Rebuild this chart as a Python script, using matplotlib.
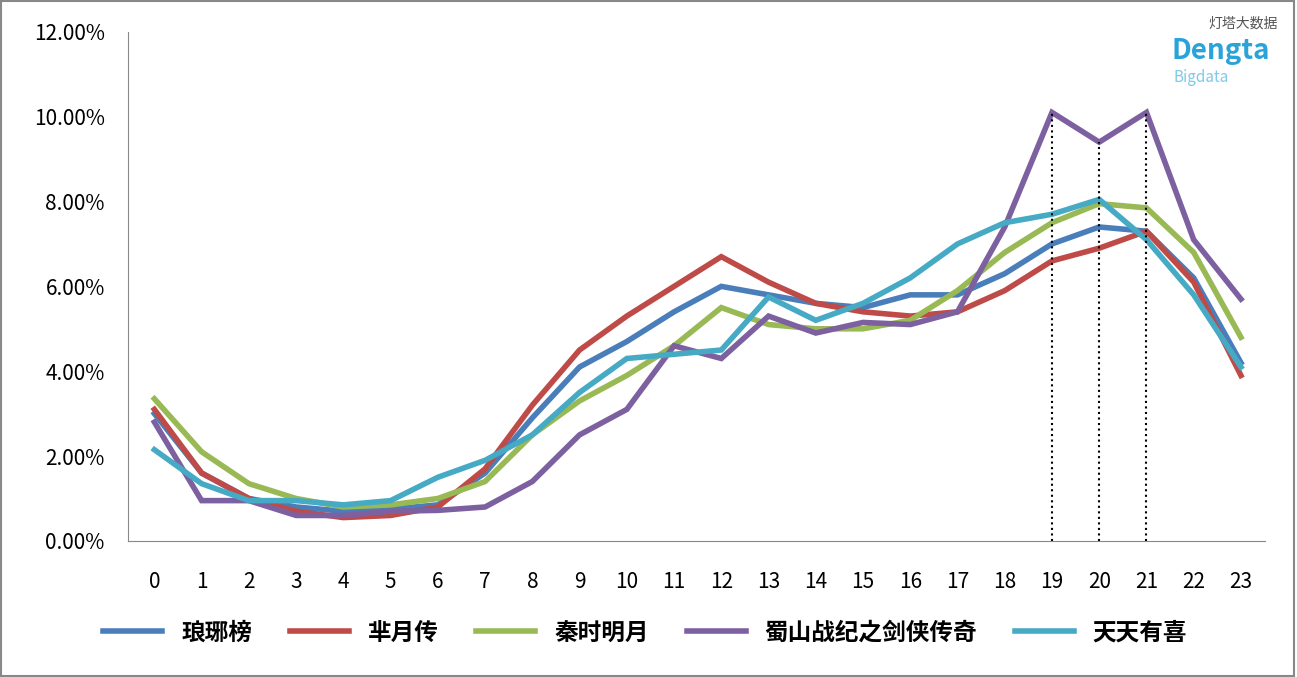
import matplotlib
matplotlib.use("Agg")
import matplotlib.pyplot as plt
from matplotlib import font_manager as fm
from matplotlib.ticker import FuncFormatter

hours = list(range(24))
names = ["琅琊榜", "芈月传", "秦时明月", "蜀山战纪之剑侠传奇", "天天有喜"]
colors = ["#4a7ebb", "#be4b48", "#98b954", "#7d60a0", "#46aac5"]
langya = [3.0,1.6,1.0,0.8,0.7,0.75,0.85,1.6,2.9,4.1,4.7,5.4,6.0,5.8,5.6,5.5,5.8,5.8,6.3,7.0,7.4,7.3,6.2,4.2]
miyue = [3.1,1.6,1.0,0.7,0.55,0.6,0.8,1.7,3.2,4.5,5.3,6.0,6.7,6.1,5.6,5.4,5.3,5.4,5.9,6.6,6.9,7.3,6.1,3.9]
qinshi = [3.35,2.1,1.35,1.0,0.8,0.85,1.0,1.4,2.5,3.3,3.9,4.6,5.5,5.1,5.0,5.0,5.2,5.9,6.8,7.5,7.95,7.85,6.8,4.8]
shushan = [2.8,0.95,0.95,0.6,0.6,0.7,0.72,0.8,1.4,2.5,3.1,4.6,4.3,5.3,4.9,5.15,5.1,5.4,7.4,10.1,9.4,10.1,7.1,5.7]
tiantian = [2.15,1.35,0.95,0.95,0.85,0.95,1.5,1.9,2.5,3.5,4.3,4.4,4.5,5.75,5.2,5.6,6.2,7.0,7.5,7.7,8.05,7.1,5.8,4.1]
series = [langya, miyue, qinshi, shushan, tiantian]
marked_hours = [19, 20, 21]

files = sorted(f for f in fm.findSystemFonts() if "CJK" in f and "Sans" in f)
pref = [f for f in files if "Regular" in f] or files
cjk_name = "Noto Sans CJK SC"
if pref:
    fm.fontManager.addfont(pref[0])
    cjk_name = fm.FontProperties(fname=pref[0]).get_name()
for f in files:
    try:
        fm.fontManager.addfont(f)
    except Exception:
        pass
plt.rcParams["font.family"] = [cjk_name, "DejaVu Sans"]

fig = plt.figure(figsize=(12.97, 6.77), dpi=100)
ax = fig.add_axes([0.099, 0.201, 0.876, 0.752])
for s, n, c in zip(series, names, colors):
    ax.plot(hours, s, color=c, lw=4, label=n, solid_joinstyle="miter")
for h in marked_hours:
    ax.plot([h, h], [0, shushan[h]], color="black", ls=":", lw=1.5)
ax.set_xlim(-0.55, 23.5)
ax.set_ylim(0, 12)
ax.set_yticks(range(0, 13, 2))
ax.yaxis.set_major_formatter(FuncFormatter(lambda v, p: f"{v:.2f}%"))
ax.set_xticks(hours)
ax.tick_params(labelsize=15, length=0)
ax.tick_params(axis="x", pad=22)
ax.tick_params(axis="y", pad=17)
for sp in ["top", "right"]:
    ax.spines[sp].set_visible(False)
for sp in ["left", "bottom"]:
    ax.spines[sp].set_color("#888888")
ax.legend(loc="upper center", bbox_to_anchor=(0.455, -0.115), ncol=5, frameon=False,
          prop={"family": cjk_name, "size": 17, "weight": "bold"}, handlelength=2.5, columnspacing=1.6)
fig.patches.append(plt.Rectangle((0.001, 0.001), 0.997, 0.997, transform=fig.transFigure,
                                 fill=False, ec="#888888", lw=1.5))
fig.text(0.985, 0.965, "灯塔大数据", ha="right", va="center", fontsize=10, color="#555555")
fig.text(0.903, 0.925, "Dengta", ha="left", va="center", fontsize=20, color="#29a3d8", weight="bold")
fig.text(0.905, 0.885, "Bigdata", ha="left", va="center", fontsize=11, color="#7fc9ea")
fig.savefig("out.png", dpi=100)
